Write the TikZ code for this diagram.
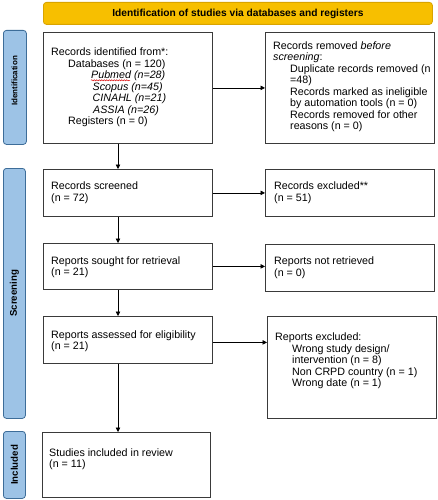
\documentclass[tikz,border=0pt]{standalone}
\usepackage{fontspec}
\setmainfont{Liberation Sans}
\usetikzlibrary{arrows.meta,calc,decorations.pathmorphing}
\definecolor{hdrfill}{HTML}{F7BF00}
\definecolor{hdrdraw}{HTML}{D9A400}
\definecolor{sidefill}{HTML}{9DC3E6}
\definecolor{sidedraw}{HTML}{3D6D99}
\definecolor{boxdraw}{HTML}{3A3A3A}
\tikzset{
  box/.style={draw=boxdraw,line width=0.8pt,anchor=north west,inner sep=0pt},
  txt/.style={anchor=north west,inner sep=0pt,align=left,font=\fontsize{10.7}{11.5}\selectfont},
  side/.style={draw=sidedraw,fill=sidefill,line width=0.8pt,rounded corners=3pt,anchor=north west,inner sep=0pt},
  sidetxt/.style={rotate=90,font=\bfseries\fontsize{9.7}{11}\selectfont,inner sep=0pt},
  arr/.style={draw=black,line width=0.7pt,-{Triangle[length=4.5pt,width=4.5pt]}}
}
\begin{document}
\begin{tikzpicture}[x=1pt,y=-1pt]
\useasboundingbox (0,0) rectangle (437,500);
% header
\node[draw=hdrdraw,fill=hdrfill,line width=0.8pt,rounded corners=3pt,anchor=north west,inner sep=0pt,
      minimum width=389pt,minimum height=22pt,font=\bfseries\fontsize{10.2}{12}\selectfont] (hdr) at (43,2)
      {Identification of studies via databases and registers};
% side labels
\node[side,minimum width=23pt,minimum height=114pt] (sid) at (3,30) {};
\node[sidetxt,font=\bfseries\fontsize{8}{10}\selectfont] (sidt) at (14.5,81) {Identification};
\node[side,minimum width=22pt,minimum height=250pt] (sscr) at (3,168) {};
\node[sidetxt] (sscrt) at (sscr.center) {Screening};
\node[side,minimum width=22pt,minimum height=67pt] (sinc) at (3,431) {};
\node[sidetxt] (sinct) at (sinc.center) {Included};
% boxes
\node[box,minimum width=169pt,minimum height=111pt] (b1) at (43,32) {};
\node[box,minimum width=169pt,minimum height=111pt] (b2) at (265,32) {};
\node[box,minimum width=169pt,minimum height=47pt] (b3) at (43,169) {};
\node[box,minimum width=169pt,minimum height=47pt] (b4) at (265,169) {};
\node[box,minimum width=169pt,minimum height=46pt] (b5) at (43,243) {};
\node[box,minimum width=169pt,minimum height=47pt] (b6) at (265,244) {};
\node[box,minimum width=169pt,minimum height=47pt] (b7) at (43,316) {};
\node[box,minimum width=169pt,minimum height=102pt] (b8) at (267,316) {};
\node[box,minimum width=168pt,minimum height=65pt] (b9) at (42,432) {};
% texts
\node[txt] (t1) at (51,47.9) {Records identified from*:\\
\hspace*{17pt}Databases (n = 120)\\
\hspace*{40pt}\textit{Pubmed (n=28)}\\
\hspace*{41.5pt}\textit{Scopus (n=45)}\\
\hspace*{41.5pt}\textit{CINAHL (n=21)}\\
\hspace*{42pt}\textit{ASSIA (n=26)}\\
\hspace*{17pt}Registers (n = 0)};
\draw[red!85!black,line width=0.5pt,decorate,decoration={snake,amplitude=0.6pt,segment length=2.5pt}] (91,80.3) -- (130,80.3);
\node[txt] (t2) at (273,41.2) {Records removed \textit{before}\\
\textit{screening}:\\
\hspace*{17pt}Duplicate records removed (n\\
\hspace*{17pt}=48)\\
\hspace*{17pt}Records marked as ineligible\\
\hspace*{17pt}by automation tools (n = 0)\\
\hspace*{17pt}Records removed for other\\
\hspace*{17pt}reasons (n = 0)};
\node[txt] (t3) at (51,181.9) {Records screened\\(n = 72)};
\node[txt] (t4) at (274,181.9) {Records excluded**\\(n = 51)};
\node[txt] (t5) at (51,256.2) {Reports sought for retrieval\\(n = 21)};
\node[txt] (t6) at (274,256.7) {Reports not retrieved\\(n = 0)};
\node[txt] (t7) at (51,330.2) {Reports assessed for eligibility\\(n = 21)};
\node[txt] (t8) at (275,332.9) {Reports excluded:\\
\hspace*{17pt}Wrong study design/\\
\hspace*{17pt}intervention (n = 8)\\
\hspace*{17pt}Non CRPD country (n = 1)\\
\hspace*{17pt}Wrong date (n = 1)};
\node[txt] (t9) at (49,448.2) {Studies included in review\\(n = 11)};
% connectors
\coordinate (col) at (118,0);
\draw[arr] (b1.east) -- (b2.west);
\draw[arr] (b3.east) -- (b4.west);
\draw[arr] (b5.east) -- (b5.east -| b6.west);
\draw[arr] ([yshift=-2.5pt]b7.east) -- ([yshift=-2.5pt]b7.east -| b8.west);
\draw[arr] (b1.south -| col) -- (b3.north -| col);
\draw[arr] (b3.south -| col) -- (b5.north -| col);
\draw[arr] (b5.south -| col) -- (b7.north -| col);
\draw[arr] (b7.south -| col) -- (b9.north -| col);
\end{tikzpicture}
\end{document}
